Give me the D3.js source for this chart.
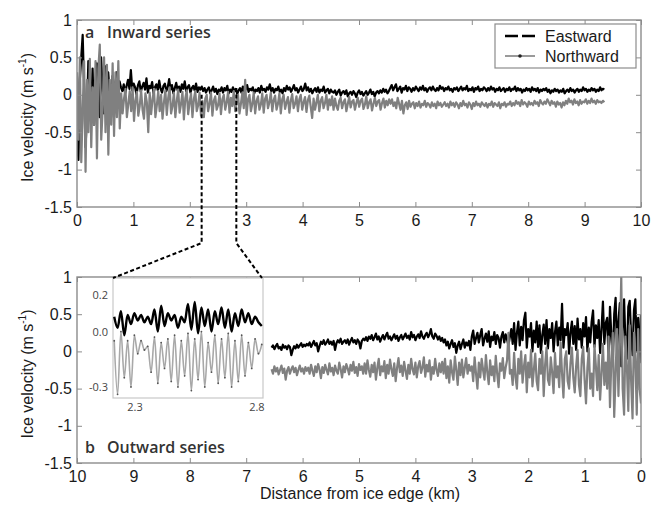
<!DOCTYPE html>
<html><head><meta charset="utf-8">
<script src="https://cdn.jsdelivr.net/npm/d3@7/dist/d3.min.js"></script>
<style>body{margin:0;background:#fff} svg{display:block}</style>
</head><body>
<svg id="c" width="660" height="506"></svg>
<script>
// ---------- data ----------
const xTicks = [0,1,2,3,4,5,6,7,8,9,10];
const yTicks = [-1.5,-1,-0.5,0,0.5,1];
const seriesNames = ["Eastward","Northward"];
const insetXTicks = [2.3, 2.8];
const insetYTicks = [-0.3, 0.0, 0.2];
const insetYLabels = ["-0.3","0.0","0.2"];
const inwardRange = [0, 9.35];     // km, first to last sample
const outwardRange = [6.55, 0];    // km, first to last sample (left to right)
const insetRange = [2.21, 2.825];  // km
const connectorStart = [0.0, 0.09]; // velocity where the zoom lines leave panel a

// panel a, Eastward (0 -> 9.35 km)
const inwardEast = [
-0.6,-0.87,0.2,0.5,0.8,0.1,-0.7,-0.3,0.45,0.2,-0.2,0.35,-0.4,0.1,0.42,0.3,-0.3,0.5,0.1,-0.25,0.38,-0.1,0.3,0.05,-0.3,0.25,0.15,-0.1,0.3,0.0,0.18,
0.1,0.05,0.14,0.02,0.12,0.2,0.08,0.33,0.06,0.15,0.1,0.0,0.13,0.18,0.04,0.11,0.16,0.07,0.22,0.03,0.12,0.09,0.17,0.02,0.1,0.14,0.06,0.19,0.08,0.03,0.12,0.15,0.05,0.1,0.21,0.07,0.13,0.02,0.09,0.16,0.06,0.11,0.04,0.14,0.08,0.18,0.05,0.1,0.13,0.03,0.09,0.12,0.06,0.15,0.04,0.1,0.07,0.11,
0.05,0.09,0.03,0.07,0.1,0.02,0.06,0.11,0.04,0.08,0.01,0.07,0.05,0.1,0.03,0.09,0.06,0.12,0.02,0.07,0.04,0.1,0.05,0.08,0.01,0.06,0.09,0.03,0.11,0.05,0.07,0.13,0.04,0.08,0.06,0.1,0.02,0.07,0.05,0.09,0.03,0.12,0.06,0.08,0.04,0.1,0.07,0.14,0.05,0.09,0.03,0.08,0.06,0.11,0.04,0.07,0.02,0.09,0.05,0.12,0.07,0.1,0.04,0.08,0.13,0.06,0.09,0.03,0.07,0.11,0.05,0.08,0.15,0.06,0.1,0.04,0.08,0.02,0.06,0.09,0.04,0.1,0.03,0.07,0.05,0.11,0.03,0.06,0.08,0.02,0.07,0.04,
0.03,0.06,0.0,0.04,0.07,-0.01,0.03,0.05,0.01,0.06,-0.02,0.02,0.04,0.0,0.05,0.02,-0.03,0.03,0.06,0.01,0.04,-0.01,0.02,0.05,0.0,0.03,0.07,0.01,0.04,-0.02,0.03,0.05,0.02,0.06,0.03,0.08,0.04,0.07,0.02,0.05,
0.09,0.13,0.06,0.1,0.14,0.05,0.08,0.11,0.03,0.09,0.07,0.12,0.05,0.1,0.08,0.04,0.09,0.06,0.11,0.08,0.05,0.1,0.07,0.12,0.06,0.09,0.04,0.08,0.1,0.06,0.11,0.07,0.05,0.09,0.06,0.12,0.08,0.1,0.05,0.09,0.07,0.11,0.06,0.08,0.04,0.09,0.07,0.1,0.05,0.08,0.11,0.06,0.09,0.07,0.12,0.05,0.08,0.06,0.1,0.04,0.09,0.07,0.11,0.05,0.08,0.06,0.1,0.08,0.05,0.09,0.06,0.11,0.07,0.09,0.04,0.08,0.06,0.1,0.05,0.07,0.09,0.04,0.08,0.06,0.1,0.05,0.08,0.07,0.11,0.05,0.09,0.06,0.08,0.03,0.07,0.05,0.09,0.06,0.08,0.04,0.1,0.06,0.08,0.05,0.09,0.03,0.07,0.05,0.08,0.06,0.09,0.04,0.07,0.02,0.06,0.04,0.08,0.05,0.07,0.03,0.06,0.04,0.08,0.02,0.05,0.07,0.04,0.09,0.05,0.07,0.03,0.06,0.08,0.04,0.07,0.05,0.1,0.06,0.08,0.04,0.07,0.05,0.09,0.06,0.08,0.04,0.07,0.05,0.1,0.06,0.08,0.07];

// panel a, Northward (0 -> 9.35 km)
const inwardNorth = [
0.3,-0.6,0.5,-0.9,-0.2,0.45,-1.03,0.2,-0.5,0.48,-0.7,0.1,-0.4,0.45,-0.85,0.35,0.67,-0.6,-0.2,0.5,-0.5,0.4,-0.8,0.2,-0.4,0.42,-0.55,0.3,-0.3,0.45,-0.45,
0.02,-0.25,-0.05,0.08,-0.3,-0.12,0.05,-0.22,0.1,-0.35,-0.08,0.04,-0.28,-0.15,0.06,-0.2,-0.32,0.02,-0.1,-0.5,0.03,-0.26,-0.06,0.08,-0.3,-0.14,0.05,-0.22,0.0,-0.32,-0.1,0.06,-0.27,-0.04,0.1,-0.25,-0.15,0.03,-0.3,-0.08,0.07,-0.24,-0.12,0.04,-0.33,-0.05,0.06,-0.26,-0.1,0.02,-0.3,-0.06,0.05,-0.22,-0.14,0.03,-0.28,-0.08,
-0.3,-0.05,0.0,-0.22,-0.12,0.03,-0.28,-0.08,-0.02,-0.2,-0.14,0.02,-0.26,-0.06,0.0,-0.2,-0.1,0.04,-0.24,-0.04,-0.15,0.05,-0.22,-0.08,0.0,-0.25,-0.12,0.03,-0.18,0.2,-0.27,-0.06,0.0,-0.22,-0.12,0.03,-0.25,-0.08,-0.02,-0.2,-0.13,0.02,-0.24,-0.05,0.0,-0.18,-0.1,0.03,-0.22,-0.07,-0.01,-0.2,-0.12,0.02,-0.25,-0.06,0.0,-0.19,-0.1,-0.03,-0.24,-0.08,0.01,-0.18,-0.12,-0.02,-0.22,-0.06,0.0,-0.2,-0.1,-0.03,-0.23,-0.07,-0.01,-0.16,-0.31,-0.05,-0.2,-0.1,0.0,-0.22,-0.08,-0.03,-0.18,-0.11,0.0,-0.2,-0.06,-0.14,-0.02,-0.2,
-0.05,-0.15,-0.2,-0.08,-0.04,-0.18,-0.1,-0.06,-0.22,-0.12,-0.03,-0.17,-0.09,-0.07,-0.2,-0.11,-0.04,-0.16,-0.08,-0.05,-0.19,-0.13,-0.02,-0.18,-0.1,-0.06,-0.21,-0.12,-0.04,-0.15,-0.09,-0.07,-0.2,-0.11,-0.05,-0.17,-0.08,-0.14,-0.06,-0.12,
-0.06,-0.15,-0.1,-0.18,-0.04,-0.12,-0.2,-0.08,-0.25,-0.14,-0.1,-0.19,-0.08,-0.16,-0.12,-0.1,-0.18,-0.11,-0.15,-0.09,-0.17,-0.12,-0.14,-0.08,-0.16,-0.11,-0.13,-0.17,-0.1,-0.15,-0.12,-0.18,-0.09,-0.14,-0.11,-0.16,-0.13,-0.1,-0.15,-0.12,-0.17,-0.09,-0.14,-0.11,-0.16,-0.1,-0.13,-0.18,-0.11,-0.15,-0.08,-0.14,-0.12,-0.17,-0.1,-0.13,-0.19,-0.11,-0.15,-0.09,-0.14,-0.12,-0.16,-0.1,-0.13,-0.15,-0.11,-0.17,-0.12,-0.14,-0.09,-0.16,-0.11,-0.13,-0.15,-0.1,-0.18,-0.12,-0.14,-0.1,-0.16,-0.12,-0.13,-0.09,-0.15,-0.11,-0.14,-0.08,-0.12,-0.1,-0.15,-0.07,-0.13,-0.1,-0.12,-0.16,-0.09,-0.13,-0.11,-0.14,-0.08,-0.12,-0.1,-0.15,-0.07,-0.11,-0.13,-0.09,-0.12,-0.06,-0.1,-0.14,-0.08,-0.12,-0.1,-0.16,-0.09,-0.13,-0.11,-0.17,-0.1,-0.14,-0.08,-0.12,-0.05,-0.1,-0.08,-0.13,-0.06,-0.11,-0.09,-0.14,-0.07,-0.12,-0.09,-0.1,-0.06,-0.12,-0.08,-0.11,-0.05,-0.1,-0.08,-0.12,-0.07,-0.1,-0.09,-0.11,-0.08,-0.1];

// panel b, Eastward (6.55 -> 0 km, left to right)
const outwardEast = [
0.05,0.08,0.03,0.07,0.1,0.04,0.06,0.02,0.09,0.05,0.07,0.03,0.08,0.06,-0.05,0.02,0.07,0.04,0.09,0.05,0.08,0.11,0.06,0.09,0.07,0.1,
0.08,0.12,0.06,0.1,0.14,0.08,0.11,0.0,0.07,0.13,0.1,0.15,0.09,0.12,0.16,0.1,0.13,0.09,0.14,0.02,0.11,0.15,0.12,0.17,0.1,0.13,0.15,0.11,0.16,0.09,0.14,0.18,0.12,0.15,0.1,0.16,0.13,0.04,0.14,0.17,
0.15,0.19,0.14,0.2,0.17,0.22,0.15,0.19,0.24,0.16,0.2,0.13,0.18,0.22,0.16,0.21,0.25,0.17,0.2,0.15,0.19,0.23,0.17,0.21,0.14,0.19,0.22,0.16,0.2,0.24,0.18,0.21,0.16,0.26,0.19,0.22,0.15,0.2,0.23,0.18,0.27,0.2,0.17,0.22,0.25,0.19,0.23,0.3,0.2,0.17,0.24,0.21,0.16,0.2,0.14,0.18,
0.12,0.16,0.08,0.13,0.04,0.1,0.15,0.06,0.11,-0.02,0.08,0.13,0.03,0.1,0.16,0.05,0.12,0.08,0.14,0.02,
0.2,0.28,0.1,0.18,0.25,0.12,0.22,0.3,0.08,0.17,0.24,0.13,0.27,0.06,0.2,0.15,0.26,0.1,0.22,0.18,0.05,0.2,0.26,0.12,0.23,0.16,0.08,0.2,
0.3,0.1,0.38,0.02,0.25,0.4,0.08,0.33,0.15,0.42,0.52,0.05,0.3,0.2,0.38,0.0,0.28,0.12,0.4,0.06,0.35,-0.02,0.22,0.36,0.1,0.42,0.04,0.3,0.18,0.38,0.0,0.26,0.4,0.08,0.32,0.15,0.64,0.05,0.3,0.22,0.38,-0.03,0.26,0.4,0.1,0.34,0.02,0.44,0.16,0.3,0.05,0.38,0.2,0.46,0.0,0.32,0.12,0.4,0.55,0.06,0.35,0.18,0.42,-0.02,0.3,0.67,0.1,0.38,
0.45,-0.1,0.6,0.2,-0.15,0.5,0.72,0.0,0.4,0.65,-0.2,0.3,0.7,0.1,-0.1,0.6,0.68,0.2,-0.05,0.55,0.7,0.0,0.45,-0.15,0.5];

// panel b, Northward (6.55 -> 0 km, left to right)
const outwardNorth = [
-0.24,-0.3,-0.2,-0.27,-0.22,-0.31,-0.25,-0.19,-0.29,-0.23,-0.38,-0.26,-0.21,-0.3,-0.24,-0.2,-0.28,-0.22,-0.32,-0.25,-0.19,-0.27,-0.23,-0.3,-0.21,-0.26,
-0.22,-0.3,-0.18,-0.26,-0.33,-0.2,-0.28,-0.17,-0.24,-0.36,-0.21,-0.29,-0.18,-0.25,-0.31,-0.16,-0.27,-0.22,-0.32,-0.19,-0.26,-0.3,-0.15,-0.24,-0.35,-0.2,-0.28,-0.17,-0.23,-0.31,-0.18,-0.26,-0.14,-0.29,-0.21,-0.33,-0.17,-0.25,-0.2,-0.3,
-0.16,-0.3,-0.12,-0.25,-0.34,-0.18,-0.28,-0.15,-0.38,-0.22,-0.1,-0.32,-0.2,-0.27,-0.13,-0.36,-0.18,-0.3,-0.11,-0.24,-0.33,-0.16,-0.4,-0.22,-0.09,-0.28,-0.19,-0.33,-0.14,-0.26,-0.37,-0.18,-0.3,-0.1,-0.24,-0.31,-0.15,-0.35,-0.2,-0.13,-0.29,-0.22,-0.08,-0.34,-0.18,-0.27,-0.12,-0.38,-0.21,-0.3,-0.1,-0.25,-0.33,-0.16,-0.28,-0.14,
-0.3,-0.1,-0.36,-0.2,-0.42,-0.12,-0.28,-0.38,-0.07,-0.25,-0.45,-0.15,-0.32,-0.11,-0.35,-0.22,-0.09,-0.3,-0.18,-0.26,
-0.2,-0.4,-0.08,-0.3,-0.5,-0.15,-0.35,-0.1,-0.25,-0.38,-0.05,-0.28,-0.44,-0.12,-0.32,-0.2,-0.4,-0.06,-0.3,-0.48,-0.16,-0.26,-0.09,-0.36,-0.22,-0.12,0.25,-0.3,
-0.25,-0.45,-0.02,-0.35,-0.5,-0.1,-0.3,0.0,-0.42,-0.2,-0.05,-0.55,-0.15,-0.35,0.02,-0.47,-0.25,-0.03,-0.4,-0.52,-0.1,-0.3,0.0,-0.6,-0.18,0.05,-0.38,-0.45,-0.08,-0.28,-0.56,-0.02,-0.35,-0.2,-0.48,0.12,-0.3,-0.62,-0.1,0.0,-0.4,-0.5,-0.15,0.05,-0.35,-0.55,-0.2,0.02,-0.45,-0.6,-0.1,0.06,-0.38,-0.7,-0.22,0.04,-0.5,-0.3,-0.6,0.08,-0.2,-0.52,-0.05,-0.65,-0.3,0.1,-0.45,-0.15,
-0.5,0.2,-0.75,-0.1,0.25,-0.88,-0.3,0.3,-0.6,0.1,1.0,-0.5,-0.85,0.2,-0.2,-0.8,0.35,-0.4,-0.9,0.25,-0.1,-0.85,0.3,-0.5,-0.7];

// inset (2.21 -> 2.825 km)
const insetEast = [0.08,0.02,0.11,-0.02,0.09,0.04,0.1,0.06,0.09,0.05,0.08,0.04,0.12,0.0,0.14,0.03,0.1,0.06,0.09,0.02,0.08,0.05,0.15,0.01,0.16,-0.01,0.13,0.03,0.12,0.0,0.11,0.04,0.13,0.02,0.12,0.0,0.1,0.03,0.12,0.05,0.1,0.04,0.08,0.05,0.03];
const insetNorth = [-0.05,-0.34,0.0,-0.25,-0.05,-0.3,-0.02,-0.12,-0.05,-0.1,-0.08,-0.22,-0.03,-0.28,-0.06,-0.2,-0.04,-0.27,-0.02,-0.3,-0.05,-0.24,-0.01,-0.32,-0.04,-0.26,0.0,-0.3,-0.06,-0.22,-0.02,-0.28,-0.04,-0.25,-0.01,-0.3,-0.05,-0.27,-0.02,-0.24,-0.06,-0.2,-0.04,-0.12,-0.07];

// ---------- drawing ----------
const svg = d3.select("#c");
const FONT = "'Liberation Sans', Arial, Helvetica, sans-serif";
const FONT2 = "'Open Sans', 'Noto Sans', sans-serif";
const AX = "#8c8c8c";
const GRAY = "#808080";
const L = 77, R = 641;

function samples(vals, range){
  const xi = d3.scaleLinear().domain([0, vals.length-1]).range(range);
  return vals.map((v,i)=>({x: xi(i), v}));
}

function styleAxis(g){
  g.select(".domain").remove();
  g.selectAll(".tick line").attr("stroke", AX).attr("stroke-width",1);
  g.selectAll(".tick text").attr("font-family", FONT).attr("font-size", 16).attr("fill","#1a1a1a");
}

function panel(id, top, bottom, xDomain, east, north, range, letter, title, labelY){
  const x = d3.scaleLinear().domain(xDomain).range([L, R]);
  const y = d3.scaleLinear().domain([-1.5, 1]).range([bottom, top]);
  const g = svg.append("g");
  g.append("clipPath").attr("id","clip"+id).append("rect")
    .attr("x",L).attr("y",top).attr("width",R-L).attr("height",bottom-top);
  const line = d3.line().x(d=>x(d.x)).y(d=>y(d.v));
  const data = g.append("g").attr("clip-path","url(#clip"+id+")");
  data.append("path").datum(samples(east, range)).attr("d", line)
    .attr("fill","none").attr("stroke","#000").attr("stroke-width",2.2).attr("stroke-linejoin","round");
  data.append("path").datum(samples(north, range)).attr("d", line)
    .attr("fill","none").attr("stroke",GRAY).attr("stroke-width",2.2).attr("stroke-linejoin","round");

  const fmt = d => String(d);
  g.append("g").attr("transform",`translate(0,${bottom})`)
    .call(d3.axisBottom(x).tickValues(xTicks).tickSize(-5).tickPadding(8).tickFormat(fmt))
    .call(styleAxis);
  g.append("g").attr("transform",`translate(0,${top})`)
    .call(d3.axisTop(x).tickValues(xTicks).tickSize(-5).tickFormat(""))
    .call(styleAxis);
  g.append("g").attr("transform",`translate(${L},0)`)
    .call(d3.axisLeft(y).tickValues(yTicks).tickSize(-5).tickPadding(5).tickFormat(fmt))
    .call(styleAxis);
  g.append("g").attr("transform",`translate(${R},0)`)
    .call(d3.axisRight(y).tickValues(yTicks).tickSize(-5).tickFormat(""))
    .call(styleAxis);
  g.append("rect").attr("x",L).attr("y",top).attr("width",R-L).attr("height",bottom-top)
    .attr("fill","none").attr("stroke",AX).attr("stroke-width",1.4);

  // y label
  const cy = (top+bottom)/2 + 4;
  const t = g.append("text").attr("transform","rotate(-90)")
    .attr("x",-cy).attr("y",33).attr("text-anchor","middle")
    .attr("font-family",FONT).attr("font-size",16).attr("fill","#1a1a1a");
  t.append("tspan").text("Ice velocity (m s");
  t.append("tspan").attr("font-size",10).attr("dy",-7).text("-1");
  t.append("tspan").attr("dy",7).text(")");

  // panel label
  g.append("text").attr("x",85).attr("y",labelY).attr("font-family",FONT2).attr("font-size",16)
    .attr("font-weight",600).attr("fill","#333").text(letter);
  g.append("text").attr("x",107).attr("y",labelY).attr("font-family",FONT2).attr("font-size",16)
    .attr("font-weight",600).attr("fill","#333").text(title);
  return {x, y};
}

const A = panel("a", 20, 207, [0,10], inwardEast, inwardNorth, inwardRange, "a", "Inward series", 38);
const B = panel("b", 277, 463, [10,0], outwardEast, outwardNorth, outwardRange, "b", "Outward series", 453);

// x-axis title
svg.append("text").attr("x",360).attr("y",499).attr("text-anchor","middle")
  .attr("font-family",FONT).attr("font-size",16).attr("fill","#1a1a1a")
  .text("Distance from ice edge (km)");

// legend
const lg = svg.append("g");
lg.append("rect").attr("x",495).attr("y",24).attr("width",141).attr("height",44)
  .attr("fill","#fff").attr("stroke",AX).attr("stroke-width",1.2);
lg.append("line").attr("x1",505).attr("x2",535).attr("y1",36).attr("y2",36)
  .attr("stroke","#000").attr("stroke-width",2.5).attr("stroke-dasharray","13,4");
lg.append("line").attr("x1",505).attr("x2",535).attr("y1",56).attr("y2",56)
  .attr("stroke",GRAY).attr("stroke-width",1.6);
lg.append("circle").attr("cx",520).attr("cy",56).attr("r",1.8).attr("fill","#222");
lg.selectAll("text.lt").data(seriesNames).join("text").attr("class","lt")
  .attr("x",545).attr("y",(d,i)=>42+i*20)
  .attr("font-family",FONT).attr("font-size",16).attr("fill","#1a1a1a").text(d=>d);

// inset
const xi = d3.scaleLinear().domain(insetRange).range([113, 263]);
const yi = d3.scaleLinear().domain([-0.36, 0.29]).range([398, 278]);
const ig = svg.append("g");
ig.append("rect").attr("x",113).attr("y",278).attr("width",150).attr("height",120)
  .attr("fill","#fff").attr("stroke","#c8c8c8").attr("stroke-width",1.2);
ig.append("clipPath").attr("id","clipi").append("rect").attr("x",113).attr("y",278).attr("width",150).attr("height",120);
const il = d3.line().x(d=>xi(d.x)).y(d=>yi(d.v)).curve(d3.curveMonotoneX);
const idat = ig.append("g").attr("clip-path","url(#clipi)");
const nIn = samples(insetNorth, [insetRange[0]+0.005, insetRange[1]-0.005]);
idat.append("path").datum(nIn).attr("d", il).attr("fill","none").attr("stroke","#a8a8a8").attr("stroke-width",1.6);
idat.selectAll("circle").data(nIn).join("circle").attr("cx",d=>xi(d.x)).attr("cy",d=>yi(d.v)).attr("r",0.9).attr("fill","#555");
idat.append("path").datum(samples(insetEast, [insetRange[0]+0.005, insetRange[1]-0.005])).attr("d", il)
  .attr("fill","none").attr("stroke","#000").attr("stroke-width",2.4).attr("stroke-linejoin","round");
ig.selectAll("text.iy").data(insetYTicks).join("text").attr("class","iy")
  .attr("x",108).attr("y",d=>yi(d)+4).attr("text-anchor","end")
  .attr("font-family",FONT2).attr("font-size",11).attr("fill","#444").text((d,i)=>insetYLabels[i]);
ig.selectAll("text.ix").data(insetXTicks).join("text").attr("class","ix")
  .attr("x",d=>xi(d)).attr("y",411).attr("text-anchor","middle")
  .attr("font-family",FONT2).attr("font-size",11).attr("fill","#444").text(d=>d.toFixed(1));

// zoom connectors
const ends = [[113,278],[262,278]];
insetRange.forEach((km,i)=>{
  const px = A.x(km);
  const p = d3.path();
  p.moveTo(px, A.y(connectorStart[i]));
  p.lineTo(px, 243);
  p.lineTo(ends[i][0], ends[i][1]);
  svg.append("path").attr("d", p.toString()).attr("fill","none")
    .attr("stroke","#000").attr("stroke-width",2).attr("stroke-dasharray","4,2.5");
});
</script>
</body></html>
